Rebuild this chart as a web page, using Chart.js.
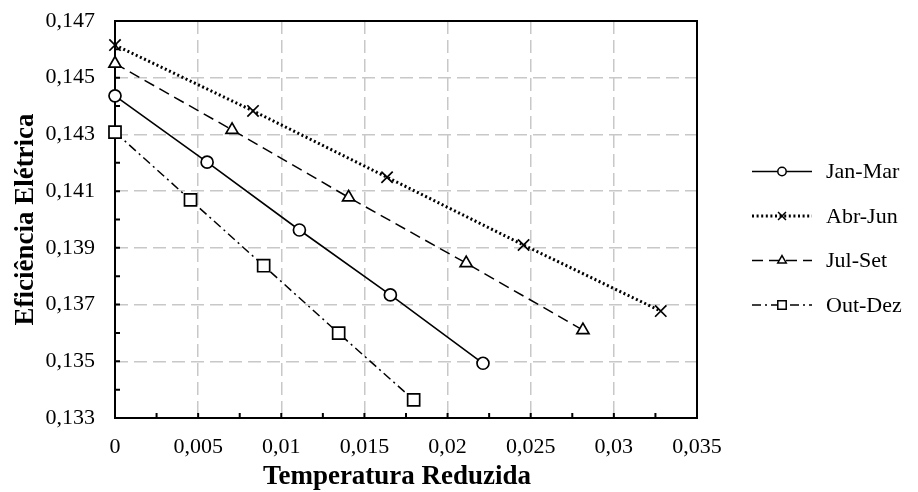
<!DOCTYPE html>
<html>
<head>
<meta charset="utf-8">
<script src="https://cdn.jsdelivr.net/npm/chart.js@4"></script>
<style>
  html, body { margin: 0; padding: 0; background: #fff; }
  #wrap { width: 918px; height: 492px; }
</style>
</head>
<body>
<div id="wrap"><canvas id="chart"></canvas></div>
<script>
var seriesNames = ['Jan-Mar', 'Abr-Jun', 'Jul-Set', 'Out-Dez'];

var janX = [0, 0.00554, 0.01109, 0.01656, 0.02213];
var janY = [0.14436, 0.14202, 0.13963, 0.13734, 0.13493];
var abrX = [0, 0.0083, 0.01636, 0.02457, 0.03282];
var abrY = [0.14615, 0.14383, 0.14149, 0.1391, 0.13677];
var julX = [0, 0.00704, 0.01405, 0.02112, 0.02814];
var julY = [0.1455, 0.14316, 0.14078, 0.13846, 0.1361];
var outX = [0, 0.00454, 0.00894, 0.01345, 0.01796];
var outY = [0.14308, 0.14069, 0.13837, 0.13599, 0.13364];

var xTickLabels = ['0', '0,005', '0,01', '0,015', '0,02', '0,025', '0,03', '0,035'];
var yTickLabels = ['0,133', '0,135', '0,137', '0,139', '0,141', '0,143', '0,145', '0,147'];
var xTitle = 'Temperatura Reduzida';
var yTitle = 'Eficiência Elétrica';

function pts(xs, ys) {
  var out = [];
  for (let i = 0; i < xs.length; i++) {
    out.push({x: xs[i], y: ys[i]});
  }
  return out;
}

function makeSet(label, data, style, radius, dash, width) {
  return {
    label: label,
    data: data,
    borderColor: '#000',
    backgroundColor: '#fff',
    borderWidth: width,
    borderDash: dash,
    pointStyle: style,
    pointRadius: radius,
    pointHoverRadius: radius,
    pointBorderWidth: 1.7,
    pointBorderColor: '#000',
    pointBackgroundColor: '#fff',
    clip: false,
    tension: 0
  };
}

// frame + inward minor tick marks
const framePlugin = {
  id: 'frame',
  beforeDatasetsDraw(chart) {
    const a = chart.chartArea;
    const ctx = chart.ctx;
    const xs = chart.scales.x, ys = chart.scales.y;
    ctx.save();
    ctx.strokeStyle = '#000';
    ctx.lineWidth = 2;
    ctx.setLineDash([]);
    ctx.beginPath();
    for (let v = 0.0025; v < 0.035; v += 0.0025) {
      const px = xs.getPixelForValue(v);
      ctx.moveTo(px, a.bottom);
      ctx.lineTo(px, a.bottom - 5);
    }
    for (let k = 1; k < 14; k++) {
      const py = ys.getPixelForValue(0.133 + k * 0.001);
      ctx.moveTo(a.left, py);
      ctx.lineTo(a.left + 5, py);
    }
    ctx.stroke();
    ctx.strokeRect(a.left, a.top, a.right - a.left, a.bottom - a.top);
    // x title sits a little left of the plot centre in the original
    ctx.fillStyle = '#000';
    ctx.font = 'bold 27px "Liberation Serif"';
    ctx.textAlign = 'center';
    ctx.textBaseline = 'middle';
    ctx.fillText(xTitle, (a.left + a.right) / 2 - 9, 477);
    ctx.restore();
  }
};

// legend with line + marker
const lineLegend = {
  id: 'lineLegend',
  afterDraw(chart) {
    const ctx = chart.ctx;
    ctx.save();
    chart.data.datasets.forEach(function (ds, i) {
      const y = 171.5 + i * 44.5;
      ctx.strokeStyle = '#000';
      ctx.lineWidth = ds.borderWidth;
      ctx.setLineDash(ds.borderDash || []);
      ctx.beginPath();
      ctx.moveTo(752, y);
      ctx.lineTo(812, y);
      ctx.stroke();
      ctx.setLineDash([]);
      ctx.fillStyle = '#fff';
      ctx.lineWidth = 1.5;
      Chart.helpers.drawPoint(ctx, {pointStyle: ds.pointStyle, radius: ds.pointRadius * 0.7, rotation: 0, borderWidth: 1.5}, 782, y);
      ctx.fillStyle = '#000';
      ctx.font = '22px "Liberation Serif"';
      ctx.textBaseline = 'middle';
      ctx.textAlign = 'left';
      ctx.fillText(ds.label, 826, y + 1);
    });
    ctx.restore();
  }
};

const ctx = document.getElementById('chart').getContext('2d');
const chart = new Chart(ctx, {
  type: 'line',
  data: {
    datasets: [
      makeSet(seriesNames[0], pts(janX, janY), 'circle', 6, [], 1.6),
      makeSet(seriesNames[1], pts(abrX, abrY), 'crossRot', 8, [2, 2.6], 3),
      makeSet(seriesNames[2], pts(julX, julY), 'triangle', 7, [11, 6], 1.5),
      makeSet(seriesNames[3], pts(outX, outY), 'rect', 8.5, [9, 4, 2, 4], 1.5)
    ]
  },
  options: {
    responsive: true,
    maintainAspectRatio: false,
    animation: false,
    layout: { padding: { top: 21, right: 221, left: 0, bottom: 0 } },
    plugins: {
      legend: { display: false },
      tooltip: { enabled: false }
    },
    scales: {
      x: {
        type: 'linear',
        min: 0,
        max: 0.035,
        afterFit: function (s) { s.height = 74; },
        ticks: {
          stepSize: 0.005,
          padding: 16,
          color: '#000',
          font: { family: 'Liberation Serif', size: 22 },
          maxRotation: 0,
          callback: function (v, i) { return xTickLabels[i]; }
        },
        grid: { color: '#c8c8c8', lineWidth: 1.5, drawTicks: false },
        border: { display: false, dash: [13, 6] },
        title: { display: false }
      },
      y: {
        min: 0.133,
        max: 0.147,
        afterFit: function (s) {
          s.width = 115;
          s.paddingTop = 0;
          s.paddingBottom = 0;
        },
        ticks: {
          stepSize: 0.002,
          padding: 20,
          color: '#000',
          font: { family: 'Liberation Serif', size: 22 },
          callback: function (v, i) { return yTickLabels[i]; }
        },
        grid: { color: '#c8c8c8', lineWidth: 1.5, drawTicks: false },
        border: { display: false, dash: [13, 6] },
        title: {
          display: true,
          text: yTitle,
          color: '#000',
          font: { family: 'Liberation Serif', size: 27, weight: 'bold' },
          padding: { top: 10, bottom: 0 }
        }
      }
    }
  },
  plugins: [framePlugin, lineLegend]
});
</script>
</body>
</html>
